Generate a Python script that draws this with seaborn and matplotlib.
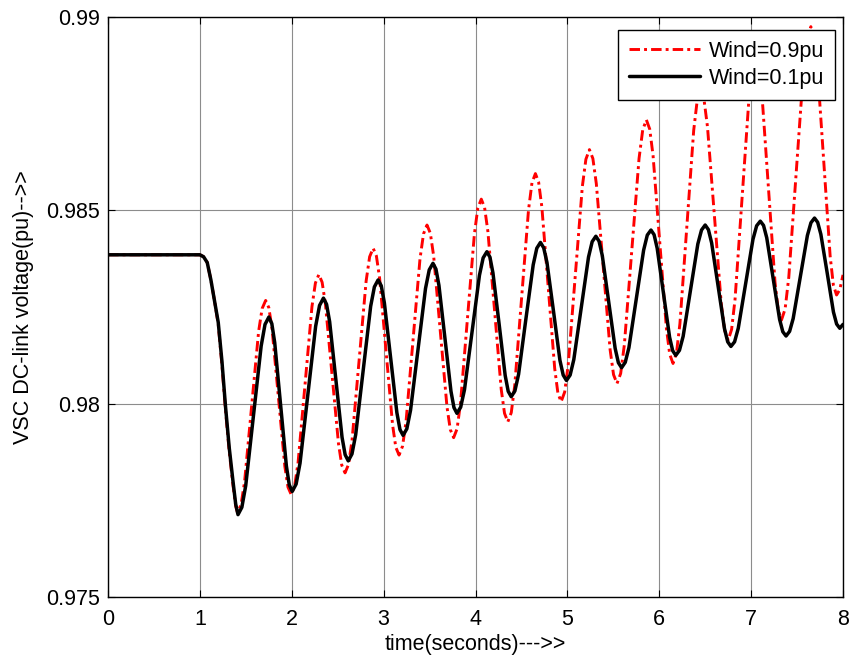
import numpy as np
import pandas as pd
import matplotlib
matplotlib.use("Agg")
import matplotlib.pyplot as plt
import seaborn as sns

# ---- data (time in s, voltage in pu) ----
black_points = [
    (0.0, 0.98385), (1.0, 0.98385), (1.04, 0.98380), (1.08, 0.98365), (1.12, 0.98320),
    (1.16, 0.98265), (1.20, 0.98210), (1.24, 0.98110), (1.28, 0.97990), (1.32, 0.97885),
    (1.36, 0.97800), (1.39, 0.97740), (1.415, 0.97713), (1.457, 0.97732), (1.499, 0.97788),
    (1.583, 0.97969), (1.667, 0.98149), (1.709, 0.98205), (1.751, 0.98224), (1.783, 0.98207),
    (1.8145, 0.98158), (1.878, 0.97999), (1.9415, 0.97839), (1.973, 0.97790), (2.005, 0.97773),
    (2.0475, 0.97792), (2.09, 0.97846), (2.175, 0.98023), (2.26, 0.98200), (2.3025, 0.98254),
    (2.345, 0.98273), (2.3788, 0.98257), (2.4125, 0.98212), (2.48, 0.98063), (2.5475, 0.97913),
    (2.5812, 0.97868), (2.615, 0.97852), (2.6556, 0.97870), (2.696, 0.97920), (2.778, 0.98086),
    (2.859, 0.98252), (2.8994, 0.98302), (2.94, 0.98320), (2.974, 0.98305), (3.008, 0.98261),
    (3.076, 0.98119), (3.144, 0.97977), (3.178, 0.97933), (3.212, 0.97918), (3.2526, 0.97935),
    (3.293, 0.97983), (3.375, 0.98141), (3.456, 0.98298), (3.4964, 0.98346), (3.537, 0.98363),
    (3.5696, 0.98348), (3.602, 0.98306), (3.668, 0.98169), (3.733, 0.98032), (3.7654, 0.97990),
    (3.798, 0.97975), (3.8388, 0.97991), (3.880, 0.98036), (3.961, 0.98184), (4.043, 0.98332),
    (4.0832, 0.98377), (4.124, 0.98393), (4.1571, 0.98379), (4.190, 0.98338), (4.257, 0.98206),
    (4.323, 0.98073), (4.3559, 0.98032), (4.389, 0.98018), (4.4288, 0.98033), (4.469, 0.98076),
    (4.548, 0.98218), (4.628, 0.98359), (4.6672, 0.98402), (4.707, 0.98417), (4.7424, 0.98403),
    (4.778, 0.98365), (4.849, 0.98239), (4.919, 0.98112), (4.9546, 0.98074), (4.990, 0.98060),
    (5.03, 0.98074), (5.07, 0.98114), (5.15, 0.98247), (5.23, 0.98379), (5.27, 0.98419),
    (5.31, 0.98433), (5.345, 0.98420), (5.38, 0.98383), (5.45, 0.98263), (5.52, 0.98143),
    (5.555, 0.98106), (5.59, 0.98093), (5.63, 0.98107), (5.67, 0.98145), (5.75, 0.98271),
    (5.83, 0.98397), (5.87, 0.98436), (5.91, 0.98449), (5.9438, 0.98437), (5.9775, 0.98402),
    (6.045, 0.98287), (6.1125, 0.98172), (6.1462, 0.98137), (6.18, 0.98125), (6.22, 0.98138),
    (6.26, 0.98174), (6.34, 0.98294), (6.42, 0.98413), (6.46, 0.98449), (6.50, 0.98462),
    (6.535, 0.98450), (6.57, 0.98416), (6.64, 0.98305), (6.71, 0.98194), (6.745, 0.98160),
    (6.78, 0.98148), (6.82, 0.98160), (6.86, 0.98195), (6.94, 0.98310), (7.02, 0.98425),
    (7.06, 0.98460), (7.10, 0.98472), (7.135, 0.98461), (7.17, 0.98429), (7.24, 0.98324),
    (7.31, 0.98218), (7.345, 0.98186), (7.38, 0.98175), (7.4188, 0.98187), (7.4575, 0.98220),
    (7.535, 0.98328), (7.6125, 0.98435), (7.6512, 0.98468), (7.69, 0.98480), (7.7244, 0.98469),
    (7.759, 0.98438), (7.828, 0.98338), (7.896, 0.98237), (7.9306, 0.98206), (7.965, 0.98195),
    (8.0, 0.98205),
]

red_points = [
    (0.0, 0.98385), (1.0, 0.98385), (1.04, 0.98380), (1.08, 0.98365), (1.12, 0.98320),
    (1.16, 0.98265), (1.20, 0.98205), (1.24, 0.98100), (1.28, 0.97980), (1.32, 0.97875),
    (1.36, 0.97790), (1.39, 0.97735), (1.41, 0.97718), (1.4483, 0.97739), (1.4865, 0.97798),
    (1.563, 0.97993), (1.6395, 0.98187), (1.6777, 0.98246), (1.716, 0.98267), (1.7508, 0.98248),
    (1.7855, 0.98194), (1.855, 0.98016), (1.9245, 0.97838), (1.9592, 0.97784), (1.994, 0.97765),
    (2.0316, 0.97787), (2.069, 0.97848), (2.1445, 0.98050), (2.220, 0.98251), (2.2574, 0.98312),
    (2.295, 0.98334), (2.3306, 0.98314), (2.366, 0.98259), (2.4375, 0.98078), (2.509, 0.97896),
    (2.5444, 0.97841), (2.58, 0.97821), (2.6183, 0.97843), (2.6565, 0.97906), (2.733, 0.98112),
    (2.8095, 0.98317), (2.8477, 0.98380), (2.886, 0.98402), (2.9213, 0.98382), (2.9565, 0.98324),
    (3.027, 0.98135), (3.0975, 0.97945), (3.1327, 0.97887), (3.168, 0.97867), (3.206, 0.97890),
    (3.244, 0.97954), (3.32, 0.98165), (3.396, 0.98375), (3.434, 0.98439), (3.472, 0.98462),
    (3.5083, 0.98441), (3.5445, 0.98382), (3.617, 0.98187), (3.6895, 0.97992), (3.7257, 0.97933),
    (3.762, 0.97912), (3.7996, 0.97935), (3.837, 0.98002), (3.9125, 0.98221), (3.988, 0.98439),
    (4.0254, 0.98506), (4.063, 0.98529), (4.0991, 0.98507), (4.135, 0.98445), (4.2075, 0.98241),
    (4.280, 0.98037), (4.3159, 0.97975), (4.352, 0.97953), (4.3895, 0.97977), (4.427, 0.98047),
    (4.502, 0.98274), (4.577, 0.98501), (4.6145, 0.98571), (4.652, 0.98595), (4.687, 0.98573),
    (4.722, 0.98509), (4.792, 0.98300), (4.862, 0.98091), (4.897, 0.98027), (4.932, 0.98005),
    (4.9705, 0.98030), (5.009, 0.98100), (5.086, 0.98331), (5.163, 0.98562), (5.2015, 0.98632),
    (5.24, 0.98657), (5.2775, 0.98634), (5.315, 0.98569), (5.39, 0.98355), (5.465, 0.98140),
    (5.5025, 0.98075), (5.54, 0.98052), (5.58, 0.98078), (5.62, 0.98152), (5.70, 0.98393),
    (5.78, 0.98634), (5.82, 0.98708), (5.86, 0.98734), (5.8963, 0.98710), (5.9325, 0.98642),
    (6.005, 0.98419), (6.0775, 0.98196), (6.1137, 0.98128), (6.15, 0.98104), (6.1875, 0.98131),
    (6.225, 0.98207), (6.30, 0.98457), (6.375, 0.98707), (6.4125, 0.98783), (6.45, 0.98810),
    (6.4875, 0.98786), (6.525, 0.98716), (6.60, 0.98487), (6.675, 0.98258), (6.7125, 0.98189),
    (6.75, 0.98164), (6.7875, 0.98192), (6.825, 0.98270), (6.90, 0.98527), (6.975, 0.98784),
    (7.0125, 0.98862), (7.05, 0.98890), (7.085, 0.98864), (7.12, 0.98792), (7.19, 0.98553),
    (7.26, 0.98314), (7.295, 0.98242), (7.33, 0.98216), (7.37, 0.98245), (7.41, 0.98327),
    (7.49, 0.98596), (7.57, 0.98864), (7.61, 0.98946), (7.65, 0.98975), (7.685, 0.98949),
    (7.72, 0.98874), (7.79, 0.98628), (7.86, 0.98382), (7.895, 0.98307), (7.93, 0.98281),
    (7.965, 0.98295), (8.0, 0.98333),
]

series_names = ["Wind=0.9pu", "Wind=0.1pu"]
x_ticks = [0, 1, 2, 3, 4, 5, 6, 7, 8]
y_ticks = [0.975, 0.98, 0.985, 0.99]
y_tick_labels = ["0.975", "0.98", "0.985", "0.99"]
x_label = "time(seconds)--->>"
y_label = "VSC DC-link voltage(pu)-->>"

# ---- plotting ----
sns.set_theme(style="white")
plt.rcParams["font.family"] = ["Liberation Sans", "DejaVu Sans"]
plt.rcParams["text.color"] = "black"
plt.rcParams["axes.labelcolor"] = "black"
FS = 15.5

fig = plt.figure(figsize=(8.5, 6.6), dpi=100)
ax = fig.add_axes([108 / 850, 63 / 660, (843 - 108) / 850, (597 - 17) / 660])

df_red = pd.DataFrame(red_points, columns=["t", "v"])
df_black = pd.DataFrame(black_points, columns=["t", "v"])

sns.lineplot(data=df_red, x="t", y="v", ax=ax, color="#ff0000", lw=2.1,
             linestyle=(0, (3.6, 1.4, 1.0, 1.4)), estimator=None, sort=False,
             label=series_names[0])
sns.lineplot(data=df_black, x="t", y="v", ax=ax, color="black", lw=2.5,
             estimator=None, sort=False, label=series_names[1])
for ln in ax.get_lines():
    ln.set_solid_joinstyle("round")
    ln.set_dash_joinstyle("round")

ax.set_xlim(0, 8)
ax.set_ylim(0.975, 0.99)
ax.set_xticks(x_ticks)
ax.set_xticklabels([str(v) for v in x_ticks])
ax.set_yticks(y_ticks)
ax.set_yticklabels(y_tick_labels)

ax.grid(True, color="#8c8c8c", lw=0.8)
ax.set_axisbelow(True)
for s in ax.spines.values():
    s.set_color("black")
    s.set_linewidth(1.0)
    s.set_visible(True)

ax.tick_params(axis="both", which="both", direction="in", length=5, width=0.8,
               top=True, right=True, bottom=True, left=True, labelsize=FS,
               colors="black", labelcolor="black")
ax.tick_params(axis="x", pad=8.5)
ax.tick_params(axis="y", pad=5.5)

ax.set_xlabel(x_label, fontsize=FS, labelpad=3, color="black")
ax.set_ylabel(y_label, fontsize=FS, labelpad=9, color="black")

leg = ax.legend(loc="upper right", bbox_to_anchor=(0.989, 0.978), borderaxespad=0,
                fontsize=FS, frameon=True, fancybox=False, framealpha=1,
                edgecolor="black", handlelength=3.3, borderpad=0.5,
                labelspacing=0.3, handletextpad=0.4)
leg.get_frame().set_linewidth(1.0)
for txt in leg.get_texts():
    txt.set_color("black")

fig.savefig("out.png", dpi=100)
